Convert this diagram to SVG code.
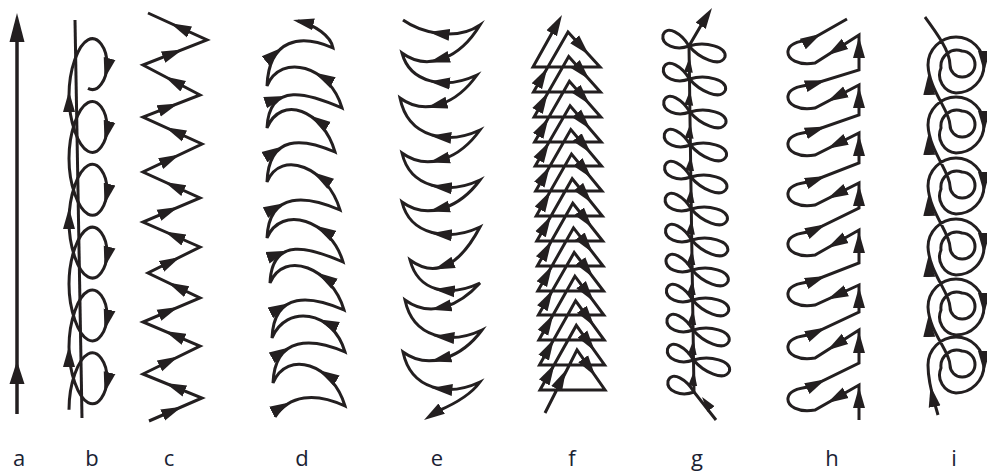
<svg xmlns="http://www.w3.org/2000/svg" width="987" height="475" viewBox="0 0 987 475">
<defs>
<style>
.ln{fill:none;stroke:#231f20;stroke-width:3;stroke-linejoin:miter;stroke-miterlimit:5}
.ar{fill:none;stroke:none;marker-end:url(#m)}
.as{fill:none;stroke:none;marker-end:url(#ms)}
.hd{fill:#231f20}
.lb{font-family:"Open Sans","Liberation Sans",sans-serif;font-size:22px;fill:#1a2233;text-anchor:middle}
</style>
<marker id="m" markerUnits="userSpaceOnUse" markerWidth="22" markerHeight="14" viewBox="0 0 22 14" refX="21" refY="7" orient="auto"><path d="M0,1 L21,7 L0,13 Z" fill="#231f20"/></marker>
<marker id="ms" markerUnits="userSpaceOnUse" markerWidth="16" markerHeight="10" viewBox="0 0 16 10" refX="15" refY="5" orient="auto"><path d="M0,0.5 L15,5 L0,9.5 Z" fill="#231f20"/></marker>
<path id="gl" d="M0,0 C-7,-12 -22,-22 -26,-11 C-28,-1 -13,5 0,0 Z"/>
<path id="gr" d="M0,0 C10,12 31,22 36,11 C38,1 17,-5 0,0 Z"/>
</defs>
<rect width="987" height="475" fill="#fff"/>

<g id="pattern-a">
<line class="ln" x1="17" y1="414" x2="17" y2="35" style="stroke-width:3.5"/>
<polygon class="hd" points="17,13 9.5,42 24.5,42"/>
<polygon class="hd" points="17,361 9.5,384 24.5,384"/>
</g>

<g id="pattern-b">
<line class="ln" x1="75" y1="20" x2="82" y2="418"/>
<path class="ln" d="M69,409.71 C69,383.53 78.05,359.24 88,354 C97.95,348.76 107,362.58 107,378.29 C107,394 97.95,407.82 88,402.58 C78.05,397.34 69,373.06 69,346.88 C69,320.7 78.05,296.41 88,291.17 C97.95,285.93 107,299.75 107,315.46 C107,331.17 97.95,344.99 88,339.75 C78.05,334.51 69,310.23 69,284.05 C69,257.87 78.05,233.58 88,228.34 C97.95,223.1 107,236.92 107,252.63 C107,268.34 97.95,282.16 88,276.92 C78.05,271.68 69,247.4 69,221.22 C69,195.04 78.05,170.75 88,165.51 C97.95,160.27 107,174.09 107,189.8 C107,205.51 97.95,219.33 88,214.09 C78.05,208.85 69,184.57 69,158.39 C69,132.21 78.05,107.92 88,102.68 C97.95,97.44 107,111.26 107,126.97 C107,142.68 97.95,156.5 88,151.26 C78.05,146.02 69,121.74 69,95.56 C69,69.38 78.05,45.09 88,39.85 C97.95,34.61 107,48.43 107,64.14 C107,79.85 97.95,93.67 88,88.43"/>
<path class="ar" d="M107,68.85 L104.5,78.85"/>
<path class="ar" d="M107,131.68 L104.5,141.68"/>
<path class="ar" d="M107,194.51 L104.5,204.51"/>
<path class="ar" d="M107,257.34 L104.5,267.34"/>
<path class="ar" d="M107,320.17 L104.5,330.17"/>
<path class="ar" d="M107,383 L104.5,393"/>
<path class="ar" d="M69,101 L69,91"/>
<path class="ar" d="M69,218 L69,208"/>
<path class="ar" d="M69,356 L69,346"/>
</g>

<g id="pattern-c">
<path class="ln" d="M149,421 L202,398 L143,374 L200,346 L143,322 L200,298 L148,273 L200,247 L143,222 L200,198 L143,172 L202,144 L143,117 L200,95 L143,65 L207,40 L148,13"/>
<path class="ar" d="M175.5,409.5 L181.9,406.7"/>
<path class="ar" d="M172.5,386 L165.4,383.1"/>
<path class="ar" d="M171.5,360 L178.3,356.6"/>
<path class="ar" d="M171.5,334 L164.7,331.1"/>
<path class="ar" d="M171.5,310 L178.3,307.1"/>
<path class="ar" d="M174,285.5 L167.8,282.5"/>
<path class="ar" d="M174,260 L180.2,256.9"/>
<path class="ar" d="M171.5,234.5 L164.7,231.5"/>
<path class="ar" d="M171.5,210 L178.3,207.1"/>
<path class="ar" d="M171.5,185 L164.7,181.9"/>
<path class="ar" d="M172.5,158 L179.6,154.6"/>
<path class="ar" d="M172.5,130.5 L165.4,127.3"/>
<path class="ar" d="M171.5,106 L178.3,103.4"/>
<path class="ar" d="M171.5,80 L164.7,76.4"/>
<path class="ar" d="M175,52.5 L182.7,49.5"/>
<path class="ar" d="M177.5,26.5 L170.4,23.3"/>
</g>

<g id="pattern-d">
<path class="ln" d="M275,417 C289,395 315,392 345,406 C333,364 287,349 273,383 C275,335 313,338 345,352 C333,310 286,304 272,338 C274,290 312,296 344,310 C332,268 284,249 270,283 C272,235 311,248 343,262 C331,220 281,204 267,238 C269,190 308,196 340,210 C328,168 281,148 267,182 C269,134 303,138 335,152 C323,110 281,94 267,128 C269,80 310,94 342,108 C330,66 281,52 267,86 C269,38 301,34 333,48 C331,36 315,25 298,21"/>
<path class="ar" d="M305,22.5 L293,20"/>
<path class="ar" d="M284.4,405.5 L290.5,402.3"/>
<path class="ar" d="M282.8,351.4 L290,347.3"/>
<path class="ar" d="M281.8,307 L289,303.3"/>
<path class="ar" d="M279.9,253.4 L287.3,250.8"/>
<path class="ar" d="M276.9,207 L284.3,203.3"/>
<path class="ar" d="M276,150.5 L282.6,146.6"/>
<path class="ar" d="M277.4,98.6 L285.1,96.1"/>
<path class="ar" d="M275.5,52.9 L281.9,47.8"/>
<path class="ar" d="M327.1,375.1 L318.5,370"/>
<path class="ar" d="M326.9,323 L318.2,319.2"/>
<path class="ar" d="M325.7,278.2 L316.8,272.6"/>
<path class="ar" d="M324.3,230.8 L315.1,225.6"/>
<path class="ar" d="M321.9,178 L313.2,172.2"/>
<path class="ar" d="M317.9,120.8 L309.9,115.6"/>
<path class="ar" d="M323.4,77.3 L314.4,72.4"/>
</g>

<g id="pattern-e">
<path class="ln" d="M403,20 C420,32 455,42 480,25 C460,58 428,72 402,53 C410,83 445,90 477,75 C457,103 426,117 400,98 C408,138 448,145 480,130 C460,158 428,172 402,153 C410,188 448,195 480,180 C460,207 428,221 402,202 C410,235 448,242 480,227 C460,265 436,279 410,260 C418,291 448,298 480,283 C460,305 431,319 405,300 C413,338 450,345 482,330 C462,357 429,371 403,352 C411,390 448,397 480,382 C470,396 452,405 438,411"/>
<path class="ar" d="M438,411 L424,420"/>
<path class="ar" d="M438.5,33.4 L428.6,32.1"/>
<path class="ar" d="M438.6,59.8 L429,62.5"/>
<path class="ar" d="M439.1,82.4 L429.1,81.4"/>
<path class="ar" d="M436.2,105.3 L426.6,107.7"/>
<path class="ar" d="M440.3,136.8 L430.3,135.8"/>
<path class="ar" d="M438.6,160.2 L429,162.6"/>
<path class="ar" d="M441,187.1 L431,186.1"/>
<path class="ar" d="M438.6,209.2 L429,211.6"/>
<path class="ar" d="M441,234.2 L431,233.2"/>
<path class="ar" d="M443.3,266.1 L433.9,269.6"/>
<path class="ar" d="M443.8,290.3 L433.8,289.3"/>
<path class="ar" d="M440.4,307.6 L430.6,309.7"/>
<path class="ar" d="M443.4,336.9 L433.4,335.9"/>
<path class="ar" d="M440.1,359.1 L430.5,361.4"/>
<path class="ar" d="M441.4,388.9 L431.4,387.9"/>
</g>

<g id="pattern-f">
<path class="ln" d="M545,413 L577,350 L605,390 L540,390 L576.3,325.4 L604.6,365 L539.5,365 L575.6,300.8 L604.2,340 L538.9,340 L574.9,276.2 L603.8,315 L538.4,315 L574.2,252.5 L603.5,291 L537.8,291 L573.5,227.9 L603.1,266 L537.3,266 L572.8,203.3 L602.7,241 L536.8,241 L572.2,178.7 L602.3,216 L536.2,216 L571.5,154.1 L601.9,191 L535.7,191 L570.8,129.5 L601.5,166 L535.2,166 L570.1,105.8 L601.2,142 L534.6,142 L569.4,81.2 L600.8,117 L534.1,117 L568.7,56.6 L600.4,92 L533.5,92 L568,32 L600,67 L533,67 L557,24"/>
<path class="ar" d="M557.1,23.7 L562,15"/>
<path class="ar" d="M579.2,44.3 L588.8,54.8"/>
<path class="ar" d="M579.8,69 L589.3,79.6"/>
<path class="ar" d="M580.4,93.7 L589.8,104.5"/>
<path class="ar" d="M581,118.5 L590.3,129.3"/>
<path class="ar" d="M581.5,142.3 L590.8,153.2"/>
<path class="ar" d="M582.1,167 L591.3,178.1"/>
<path class="ar" d="M582.7,191.8 L591.8,202.9"/>
<path class="ar" d="M583.3,216.5 L592.2,227.8"/>
<path class="ar" d="M583.9,241.2 L592.7,252.7"/>
<path class="ar" d="M584.5,266 L593.2,277.5"/>
<path class="ar" d="M585,289.8 L593.7,301.4"/>
<path class="ar" d="M585.6,314.5 L594.2,326.3"/>
<path class="ar" d="M586.2,339.3 L594.7,351.1"/>
<path class="ar" d="M586.8,364 L595.2,376"/>
<path class="ar" d="M540.4,80 L547.3,68"/>
<path class="ar" d="M541,104.9 L547.9,92.8"/>
<path class="ar" d="M541.6,129.8 L548.5,117.7"/>
<path class="ar" d="M542.2,154 L549.2,141.9"/>
<path class="ar" d="M542.7,178.7 L549.7,166.4"/>
<path class="ar" d="M543.3,203.6 L550.3,191.2"/>
<path class="ar" d="M543.9,228.5 L551,216.1"/>
<path class="ar" d="M544.4,253.5 L551.5,240.9"/>
<path class="ar" d="M545,278.4 L552.1,265.8"/>
<path class="ar" d="M545.6,302.5 L552.7,290"/>
<path class="ar" d="M546.1,327.2 L553.3,314.5"/>
<path class="ar" d="M546.7,352.2 L553.9,339.3"/>
<path class="ar" d="M547.3,377.1 L554.5,364.2"/>
<path class="ar" d="M560,382 L566,370"/>
</g>

<g id="pattern-g">
<path class="ln" d="M716,420 L694,392 L693.5,360 L693.1,330 L692.6,300 L692.2,270 L691.7,240 L691.3,209 L690.8,177 L690.4,145 L689.9,112 L689.5,79 L689,46 L703,22"/>
<use href="#gl" class="ln" x="689" y="46"/><use href="#gr" class="ln" x="689" y="46"/>
<use href="#gl" class="ln" x="689.5" y="79"/><use href="#gr" class="ln" x="689.5" y="79"/>
<use href="#gl" class="ln" x="689.9" y="112"/><use href="#gr" class="ln" x="689.9" y="112"/>
<use href="#gl" class="ln" x="690.4" y="145"/><use href="#gr" class="ln" x="690.4" y="145"/>
<use href="#gl" class="ln" x="690.8" y="177"/><use href="#gr" class="ln" x="690.8" y="177"/>
<use href="#gl" class="ln" x="691.3" y="209"/><use href="#gr" class="ln" x="691.3" y="209"/>
<use href="#gl" class="ln" x="691.7" y="240"/><use href="#gr" class="ln" x="691.7" y="240"/>
<use href="#gl" class="ln" x="692.2" y="270"/><use href="#gr" class="ln" x="692.2" y="270"/>
<use href="#gl" class="ln" x="692.6" y="300"/><use href="#gr" class="ln" x="692.6" y="300"/>
<use href="#gl" class="ln" x="693.1" y="330"/><use href="#gr" class="ln" x="693.1" y="330"/>
<use href="#gl" class="ln" x="693.5" y="360"/><use href="#gr" class="ln" x="693.5" y="360"/>
<use href="#gl" class="ln" x="694" y="392"/>
<path class="ar" d="M703,22 L712,8"/>
<path class="as" d="M688.9,65.5 L689.6,57.5"/>
<path class="as" d="M689.3,98.5 L690,90.5"/>
<path class="as" d="M689.7,131.5 L690.4,123.5"/>
<path class="as" d="M690.2,164 L690.9,156"/>
<path class="as" d="M690.6,196 L691.3,188"/>
<path class="as" d="M691,227.5 L691.7,219.5"/>
<path class="as" d="M691.5,258 L692.2,250"/>
<path class="as" d="M691.9,288 L692.6,280"/>
<path class="as" d="M692.4,318 L693.1,310"/>
<path class="as" d="M692.8,348 L693.5,340"/>
<path class="as" d="M693.3,379 L694,371"/>
<path class="as" d="M711,409 L702,397"/>
</g>

<g id="pattern-h">
<path class="ln" d="M859,420 L859,385 L815,410 C798,413 787,406 788,398 C789,391 798,388 810,387 L859,363 L859,330 L815,358 C798,361 787,354 788,346 C789,339 798,336 810,335 L859,312 L859,285 L815,305 C798,308 787,301 788,293 C789,286 798,283 810,282 L859,263 L859,230 L815,255 C798,258 787,251 788,243 C789,236 798,233 810,232 L859,208 L859,183 L815,205 C798,208 787,201 788,193 C789,186 798,183 810,182 L859,163 L859,133 L815,155 C798,158 787,151 788,143 C789,136 798,133 810,132 L859,115 L859,85 L815,108 C798,111 787,104 788,96 C789,89 798,86 810,85 L859,70 L859,35 L815,63 C798,66 787,59 788,51 C789,44 798,41 810,40 L847,19"/>
<path class="ar" d="M859,47 L859,37"/>
<path class="ar" d="M859,97 L859,87"/>
<path class="ar" d="M859,145 L859,135"/>
<path class="ar" d="M859,195 L859,185"/>
<path class="ar" d="M859,242 L859,232"/>
<path class="ar" d="M859,297 L859,287"/>
<path class="ar" d="M859,342 L859,332"/>
<path class="ar" d="M859,397 L859,387"/>
<path class="ar" d="M839.2,47.6 L827.3,55.2"/>
<path class="ar" d="M839.2,95.4 L827.3,101.6"/>
<path class="ar" d="M839.2,142.9 L827.3,148.8"/>
<path class="ar" d="M839.2,192.9 L827.3,198.8"/>
<path class="ar" d="M839.2,241.3 L827.3,248"/>
<path class="ar" d="M839.2,294 L827.3,299.4"/>
<path class="ar" d="M839.2,342.6 L827.3,350.2"/>
<path class="ar" d="M839.2,396.3 L827.3,403"/>
<path class="ar" d="M813.7,37.9 L821.1,33.7"/>
<path class="ar" d="M814.9,83.5 L825.7,80.2"/>
<path class="ar" d="M814.9,130.3 L825.7,126.6"/>
<path class="ar" d="M814.9,180.1 L825.7,175.9"/>
<path class="ar" d="M814.9,229.6 L825.7,224.3"/>
<path class="ar" d="M814.9,280.1 L825.7,275.9"/>
<path class="ar" d="M814.9,332.7 L825.7,327.6"/>
<path class="ar" d="M814.9,384.6 L825.7,379.3"/>
</g>

<g id="pattern-i">
<path class="ln" d="M938,415 C934,400 928,385 928,365 A28,28 0 0 1 956,337 A28,28 0 0 1 984,365 A28,28 0 0 1 956,393 A18,18 0 0 1 941,368 A16,16 0 0 1 962,351 A13.5,13.5 0 0 1 975,365 A12.5,12.5 0 0 1 962,377 A12,12 0 0 1 950,365 C950,351 929,332 928,307 A28,28 0 0 1 956,279 A28,28 0 0 1 984,307 A28,28 0 0 1 956,335 A18,18 0 0 1 941,310 A16,16 0 0 1 962,293 A13.5,13.5 0 0 1 975,307 A12.5,12.5 0 0 1 962,319 A12,12 0 0 1 950,307 C950,293 929,272 928,247 A28,28 0 0 1 956,219 A28,28 0 0 1 984,247 A28,28 0 0 1 956,275 A18,18 0 0 1 941,250 A16,16 0 0 1 962,233 A13.5,13.5 0 0 1 975,247 A12.5,12.5 0 0 1 962,259 A12,12 0 0 1 950,247 C950,233 929,211 928,186 A28,28 0 0 1 956,158 A28,28 0 0 1 984,186 A28,28 0 0 1 956,214 A18,18 0 0 1 941,189 A16,16 0 0 1 962,172 A13.5,13.5 0 0 1 975,186 A12.5,12.5 0 0 1 962,198 A12,12 0 0 1 950,186 C950,172 929,150 928,125 A28,28 0 0 1 956,97 A28,28 0 0 1 984,125 A28,28 0 0 1 956,153 A18,18 0 0 1 941,128 A16,16 0 0 1 962,111 A13.5,13.5 0 0 1 975,125 A12.5,12.5 0 0 1 962,137 A12,12 0 0 1 950,125 C950,111 929,90 928,65 A28,28 0 0 1 956,37 A28,28 0 0 1 984,65 A28,28 0 0 1 956,93 A18,18 0 0 1 941,68 A16,16 0 0 1 962,51 A13.5,13.5 0 0 1 975,65 A12.5,12.5 0 0 1 962,77 A12,12 0 0 1 950,65 C950,51 936,32 925,17"/>
<path class="ar" d="M928.8,84 L928.4,74"/>
<path class="ar" d="M928.8,144 L928.4,134"/>
<path class="ar" d="M928.8,205 L928.4,195"/>
<path class="ar" d="M928.8,266 L928.4,256"/>
<path class="ar" d="M928.8,326 L928.4,316"/>
<path class="ar" d="M932.5,396 L930.5,386"/>
<path class="ar" d="M984,62 L984,72"/>
<path class="ar" d="M984,122 L984,132"/>
<path class="ar" d="M984,183 L984,193"/>
<path class="ar" d="M984,244 L984,254"/>
<path class="ar" d="M984,304 L984,314"/>
<path class="ar" d="M984,362 L984,372"/>
</g>

<g id="labels">
<text class="lb" x="19" y="466">a</text>
<text class="lb" x="92" y="466">b</text>
<text class="lb" x="169" y="466">c</text>
<text class="lb" x="302" y="466">d</text>
<text class="lb" x="437" y="466">e</text>
<text class="lb" x="572" y="466">f</text>
<text class="lb" x="697" y="466">g</text>
<text class="lb" x="832" y="466">h</text>
<text class="lb" x="954" y="466">i</text>
</g>
</svg>
